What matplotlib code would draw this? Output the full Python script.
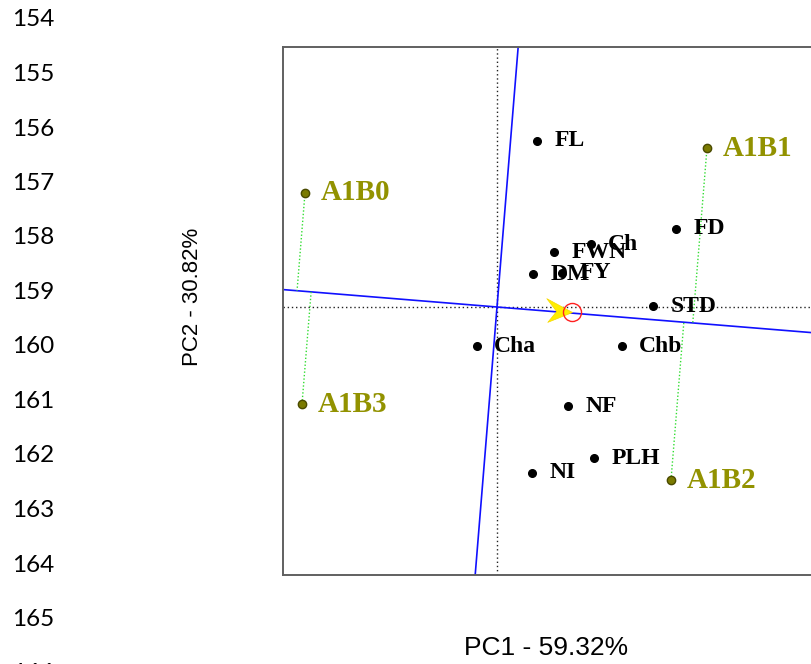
import numpy as np
import matplotlib
matplotlib.use("Agg")
import matplotlib.pyplot as plt
from matplotlib.path import Path

# ---------------- data ----------------
trait_names = ["FL", "FD", "FWN", "Ch", "DM", "FY", "STD", "Cha", "Chb", "NF", "PLH", "NI"]
trait_pc1 = [0.40, 1.79, 0.57, 0.94, 0.36, 0.65, 1.56, -0.20, 1.25, 0.71, 0.97, 0.35]
trait_pc2 = [1.66, 0.78, 0.55, 0.63, 0.33, 0.34, 0.01, -0.39, -0.39, -0.99, -1.51, -1.66]

env_names = ["A1B0", "A1B1", "A1B2", "A1B3"]
env_pc1 = [-1.92, 2.10, 1.74, -1.95]
env_pc2 = [1.14, 1.59, -1.73, -0.97]

axis_slope = -0.0814          # slope of the blue reference line through the origin
avg_point = [0.75, -0.05]     # average (circle / arrow) position
line_numbers = list(range(154, 167))
xlabel = "PC1 - 59.32%"
ylabel = "PC2 - 30.82%"

xlim = (-2.14, 3.21)
ylim = (-2.68, 2.60)

# ---------------- figure ----------------
W, H = 811, 664
fig = plt.figure(figsize=(W / 100, H / 100), dpi=100)
left_px, right_px, top_px, bot_px = 283, 818, 47, 575
ax = fig.add_axes([left_px / W, 1 - bot_px / H, (right_px - left_px) / W, (bot_px - top_px) / H])
ax.set_xlim(*xlim)
ax.set_ylim(*ylim)
ax.set_xticks([])
ax.set_yticks([])
for s in ["top", "left", "bottom"]:
    ax.spines[s].set_color("#606060")
    ax.spines[s].set_linewidth(1.4)
ax.spines["right"].set_visible(False)

# dotted axes through origin
ax.axhline(0, color="#222222", lw=1.0, ls=(0, (1, 2)), zorder=1)
ax.axvline(0, color="#222222", lw=1.0, ls=(0, (1, 2)), zorder=1)

# blue reference lines
xs = np.array(xlim)
ax.plot(xs, axis_slope * xs, color="#1010ff", lw=1.2, zorder=2)
perp = -1.0 / axis_slope
ys = np.array(ylim)
ax.plot(ys / perp, ys, color="#1010ff", lw=1.2, zorder=2)

# projections of environments onto blue line (green dotted)
d = np.array([1.0, axis_slope]) / np.hypot(1.0, axis_slope)
for x, y in zip(env_pc1, env_pc2):
    p = np.array([x, y])
    proj = d * np.dot(p, d)
    ax.plot([x, proj[0]], [y, proj[1]], color="#33dd33", lw=1.0, ls=(0, (1, 1.5)), zorder=2)

# average-environment arrow + circle
arrow = Path([(0, 0), (-26, 14), (-16, 1), (-25, -10), (0, 0)],
             [Path.MOVETO, Path.LINETO, Path.LINETO, Path.LINETO, Path.CLOSEPOLY])
ax.plot([avg_point[0]], [avg_point[1]], marker=arrow, markersize=37, color="#ffee00",
        markeredgecolor="#f5d800", markeredgewidth=0.5, zorder=3)
ax.plot([avg_point[0]], [avg_point[1]], marker="o", markersize=13, markerfacecolor="none",
        markeredgecolor="#ff2020", markeredgewidth=1.0, zorder=4)

# traits
ax.plot(trait_pc1, trait_pc2, "o", color="black", markersize=5.5, zorder=5)
for n, x, y in zip(trait_names, trait_pc1, trait_pc2):
    ax.annotate(n, (x, y), xytext=(12.5, 0), textcoords="offset points", va="center", ha="left",
                fontsize=17, fontweight="bold", family="Liberation Serif", color="black", zorder=6)

# environments
env_col = "#929200"
ax.plot(env_pc1, env_pc2, "o", color="#7a7a00", markeredgecolor="#4a4a00", markersize=6, zorder=5)
for n, x, y in zip(env_names, env_pc1, env_pc2):
    ax.annotate(n, (x, y), xytext=(11, 0), textcoords="offset points", va="center", ha="left",
                fontsize=21, fontweight="bold", family="Liberation Serif", color=env_col, zorder=6)

# line numbers at the left margin
for i, n in enumerate(line_numbers):
    ypx = 20 + i * 54.5
    fig.text(12 / W, 1 - ypx / H, str(n), ha="left", va="center", fontsize=17.5,
             family="Lato", color="black")

fig.text(546 / W, 1 - 648 / H, xlabel, ha="center", va="center", fontsize=19,
         family="Liberation Sans")
fig.text(193 / W, 1 - 297 / H, ylabel, ha="center", va="center", fontsize=16,
         family="Liberation Sans", rotation=90)

fig.savefig("out.png", dpi=100)
